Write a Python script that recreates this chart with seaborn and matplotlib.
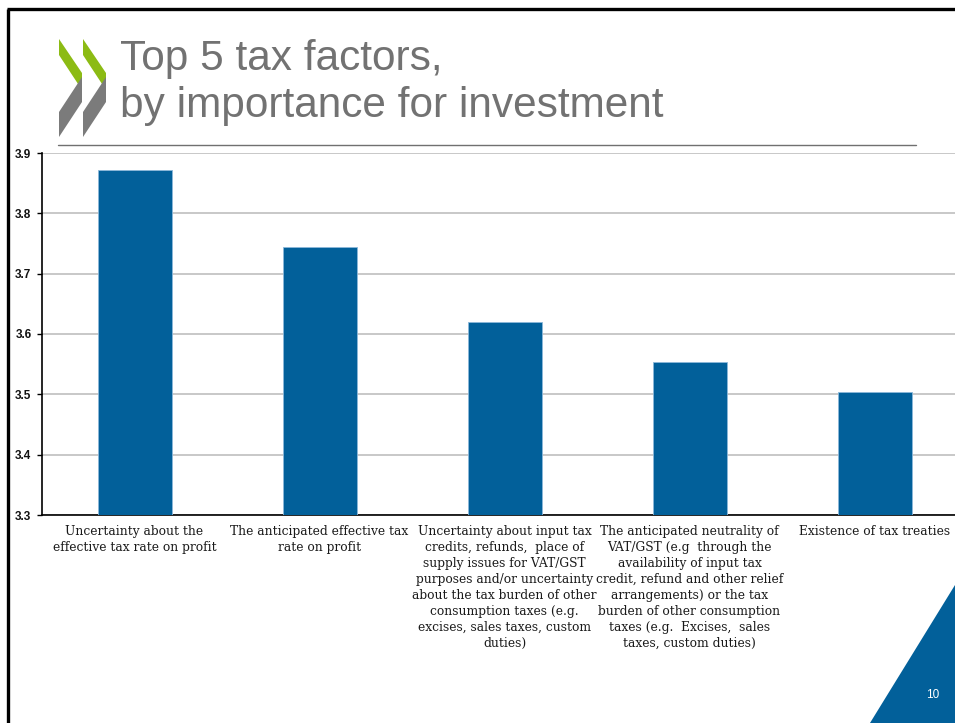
import matplotlib
matplotlib.use("Agg")
import matplotlib.pyplot as plt
from matplotlib.patches import Polygon
import seaborn as sns
import pandas as pd

# Survey results: average importance score of each tax factor
factors = [
    "Uncertainty about the\neffective tax rate on profit",
    "The anticipated effective tax\nrate on profit",
    "Uncertainty about input tax\ncredits, refunds,  place of\nsupply issues for VAT/GST\n"
    "purposes and/or uncertainty\nabout the tax burden of other\nconsumption taxes (e.g.\n"
    "excises, sales taxes, custom\nduties)",
    "The anticipated neutrality of\nVAT/GST (e.g  through the\navailability of input tax\n"
    "credit, refund and other relief\narrangements) or the tax\nburden of other consumption\n"
    "taxes (e.g.  Excises,  sales\ntaxes, custom duties)",
    "Existence of tax treaties",
]
scores = [3.872, 3.745, 3.620, 3.553, 3.504]
y_ticks = [3.3, 3.4, 3.5, 3.6, 3.7, 3.8, 3.9]
y_tick_labels = ["3.3", "3.4", "3.5", "3.6", "3.7", "3.8", "3.9"]

title_lines = ["Top 5 tax factors,", "by importance for investment"]
page_number = "10"

df = pd.DataFrame({"factor": factors, "score": scores})

sns.set_style("white")
plt.rcParams["font.family"] = ["Liberation Sans", "DejaVu Sans"]

W, H = 955, 723
fig = plt.figure(figsize=(W / 100, H / 100), dpi=100)
fig.patch.set_facecolor("white")


def fx(px):
    return px / W


def fy(py):
    return 1 - py / H


# Plot area in slide pixel coordinates
left, right, top, bottom = 42, 967, 153, 515
ax = fig.add_axes([fx(left), fy(bottom), fx(right) - fx(left), fy(top) - fy(bottom)])

sns.barplot(data=df, x="factor", y="score", color="#02609a", width=0.4,
            saturation=1, ax=ax, edgecolor="#8cb8da", linewidth=0.6, zorder=3)

ax.set_ylim(3.3, 3.9)
ax.set_xlim(-0.5, len(factors) - 0.5)
ax.set_yticks(y_ticks)
ax.set_yticklabels(y_tick_labels, fontsize=8.5, fontweight="bold",
                   family=["Liberation Sans"], color="#111111")
ax.yaxis.grid(True, color="#c4c4c4", linewidth=1.3, zorder=0)
ax.set_axisbelow(True)
ax.set_xlabel("")
ax.set_ylabel("")

# Category labels below the axis, tick marks on category boundaries
ax.set_xticks(range(len(factors)))
ax.set_xticklabels(factors, fontsize=8.8, family=["DejaVu Serif"],
                   linespacing=1.3, color="#1a1a1a", va="top")
ax.tick_params(axis="x", length=0, pad=7)
ax.set_xticks([i - 0.5 for i in range(len(factors) + 1)], minor=True)
ax.tick_params(axis="x", which="minor", length=3.6, width=1, color="black",
               direction="out")
ax.tick_params(axis="y", length=3.6, width=1, color="black", direction="out",
               left=True, pad=4)

for s in ["top", "right"]:
    ax.spines[s].set_visible(False)
for s in ["left", "bottom"]:
    ax.spines[s].set_color("black")
    ax.spines[s].set_linewidth(1.2)

# Slide frame, header rule and decorations
over = fig.add_axes([0, 0, 1, 1], zorder=-1)
over.set_xlim(0, W)
over.set_ylim(H, 0)
over.axis("off")
over.plot([8, 8], [9, H + 5], color="black", lw=2.4, solid_capstyle="butt")
over.plot([7, W + 5], [9, 9], color="black", lw=2.4, solid_capstyle="butt")
over.plot([58, 916], [145, 145], color="#707070", lw=1.0)

# Chevron logo
for x0 in (59, 83):
    over.add_patch(Polygon([(x0, 39), (x0 + 23, 73), (x0 + 23, 90), (x0, 55)],
                           closed=True, color="#8cbb14", lw=0))
    over.add_patch(Polygon([(x0 + 23, 77), (x0 + 23, 102), (x0, 137), (x0, 112)],
                           closed=True, color="#7b7b7b", lw=0))

over.add_patch(Polygon([(870, H), (W, 585), (W, H)], closed=True,
                       color="#02609a", lw=0))
over.text(933, 695, page_number, color="white", fontsize=8.5, ha="center",
          va="center")

over.text(120, 70, title_lines[0], fontsize=30.5, color="#727272", va="baseline")
over.text(120, 117, title_lines[1], fontsize=30.5, color="#727272", va="baseline")

fig.savefig("out.png", dpi=100)
